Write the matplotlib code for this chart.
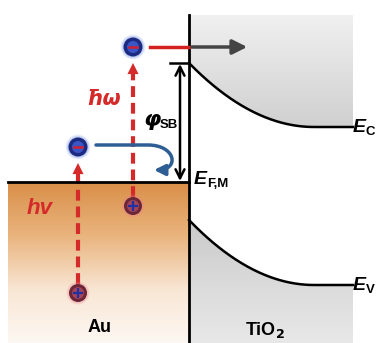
import numpy as np
import matplotlib
matplotlib.use("Agg")
import matplotlib.pyplot as plt
from matplotlib.patches import Circle, Polygon, FancyArrowPatch
from matplotlib.path import Path
from matplotlib.colors import LinearSegmentedColormap

plt.rcParams['font.family'] = ['Liberation Sans', 'DejaVu Sans']

# ---- schematic data (pixel units of the drawing) ----
interface_x = 189
band_end_x = 353
bend_width = 125
ec_levels = [63, 127]      # conduction band edge: at interface, in bulk
ev_levels = [220, 285]     # valence band edge: at interface, in bulk
fermi_level = 182
top_y = 15
hot_electron_level = 47
electrons = [(133, 47), (78, 147)]
holes = [(133, 206), (78, 293)]
band_labels = ["C", "V"]

W, H = 379, 343
fig = plt.figure(figsize=(W / 100, H / 100), dpi=100)
ax = fig.add_axes([0, 0, 1, 1])
ax.set_xlim(0, W)
ax.set_ylim(H, 0)
ax.axis('off')

def band(x, y0, y1):
    t = np.clip((x - interface_x) / bend_width, 0, 1)
    return y1 + (y0 - y1) * (1 - t) ** 2

xs = np.linspace(interface_x, band_end_x, 200)
ec = band(xs, *ec_levels)
ev = band(xs, *ev_levels)

# Au region gradient
au_cmap = LinearSegmentedColormap.from_list('au', ['#d98f48', '#e9b47e', '#f8e6d4', '#fdf8f3'])
grad = np.linspace(0, 1, 256).reshape(-1, 1)
ax.imshow(grad, cmap=au_cmap, extent=[8, interface_x, H, fermi_level], aspect='auto', zorder=0)

# TiO2 conduction region gradient
g_cmap1 = LinearSegmentedColormap.from_list('g1', ['#f0f0f0', '#d0d0d0'])
im1 = ax.imshow(grad, cmap=g_cmap1, extent=[interface_x, band_end_x, ec_levels[1], top_y], aspect='auto', zorder=0)
poly1 = Polygon(np.vstack([[[interface_x, top_y], [band_end_x, top_y]], np.column_stack([xs, ec])[::-1]]),
                closed=True, transform=ax.transData, facecolor='none', edgecolor='none')
ax.add_patch(poly1)
im1.set_clip_path(poly1)

g_cmap2 = LinearSegmentedColormap.from_list('g2', ['#c9c9c9', '#dadada', '#e8e8e8'])
im2 = ax.imshow(grad, cmap=g_cmap2, extent=[interface_x, band_end_x, H, ev_levels[0]], aspect='auto', zorder=0)
poly2 = Polygon(np.vstack([np.column_stack([xs, ev]), [[band_end_x, H], [interface_x, H]]]),
                closed=True, transform=ax.transData, facecolor='none', edgecolor='none')
ax.add_patch(poly2)
im2.set_clip_path(poly2)

# band edges
ax.plot(xs, ec, color='black', lw=1.8, zorder=3)
ax.plot(xs, ev, color='black', lw=1.8, zorder=3)
ax.plot([interface_x, interface_x], [top_y, H], color='black', lw=2, zorder=4)
ax.plot([8, interface_x], [fermi_level, fermi_level], color='black', lw=2, zorder=4)
ax.plot([170, interface_x], [ec_levels[0], ec_levels[0]], color='black', lw=1.8, zorder=4)

# hot electron level and transfer arrow
ax.plot([150, interface_x], [hot_electron_level, hot_electron_level], color='#d42020', lw=2.5, zorder=4)
ax.annotate('', xy=(250, hot_electron_level), xytext=(interface_x, hot_electron_level),
            arrowprops=dict(arrowstyle='-|>', color='#444444', lw=2.5, mutation_scale=22), zorder=5)

# Schottky barrier arrow
ax.annotate('', xy=(180, ec_levels[0] + 1), xytext=(180, fermi_level - 1),
            arrowprops=dict(arrowstyle='<->', color='black', lw=1.8, mutation_scale=16,
                            shrinkA=0, shrinkB=0), zorder=5)

# red dashed excitation arrows
red = '#d42a2a'
exc = [(holes[0], electrons[0]), (holes[1], electrons[1])]
for (hx, hy), (ex, ey) in exc:
    tip = ey + 16
    ax.plot([hx, hx], [hy - 9, tip + 8], color=red, lw=3, ls=(0, (2.6, 1.4)), zorder=3)
    ax.annotate('', xy=(hx, tip), xytext=(hx, tip + 12),
                arrowprops=dict(arrowstyle='-|>', color=red, lw=0, mutation_scale=20,
                                shrinkA=0, shrinkB=0), zorder=3)

# blue curved arrow (relaxation)
blue = '#2f5e95'
verts = [(96, 145), (148, 145), (176, 145), (180, 170), (154, 170)]
codes = [Path.MOVETO, Path.LINETO, Path.CURVE4, Path.CURVE4, Path.CURVE4]
arr = FancyArrowPatch(path=Path(verts, codes), arrowstyle='-|>', color=blue, lw=2.5,
                      mutation_scale=16, shrinkA=0, shrinkB=0, zorder=4)
ax.add_patch(arr)

# electrons
for (x, y) in electrons:
    for r, a in [(12.5, 0.12), (11.5, 0.18), (10.5, 0.25)]:
        ax.add_patch(Circle((x, y), r, color='#6f8fe0', alpha=a, lw=0, zorder=6))
    ax.add_patch(Circle((x, y), 9.5, color='#1d2a82', lw=0, zorder=6))
    ax.add_patch(Circle((x, y), 6, color='#3a55c4', lw=0, zorder=6))
    ax.plot([x - 4, x + 4], [y, y], color='#d02030', lw=1.8, zorder=7)

# holes
for (x, y) in holes:
    for r, a in [(11.5, 0.15), (10.5, 0.25)]:
        ax.add_patch(Circle((x, y), r, color='#f08090', alpha=a, lw=0, zorder=6))
    ax.add_patch(Circle((x, y), 9, color='#6b2638', lw=0, zorder=6))
    ax.add_patch(Circle((x, y), 6, color='#a54457', lw=0, zorder=6))
    ax.plot([x - 4, x + 4], [y, y], color='#2030a0', lw=1.6, zorder=7)
    ax.plot([x, x], [y - 4, y + 4], color='#2030a0', lw=1.6, zorder=7)

# labels
ax.text(104, 99, 'ħω', color=red, fontsize=15, fontweight='bold', style='italic',
        ha='center', va='center', family=['DejaVu Sans'], zorder=8)
ax.text(40, 208, 'hv', color=red, fontsize=16, fontweight='bold', style='italic',
        ha='center', va='center', zorder=8)
ax.text(143, 120, 'φ', color='black', fontsize=16, fontweight='bold', style='italic',
        ha='left', va='center', family=['DejaVu Sans'], zorder=8)
ax.text(160, 125, 'SB', color='black', fontsize=9.5, fontweight='bold',
        ha='left', va='center', zorder=8)

def elabel(x, y, sub):
    ax.text(x, y, 'E', color='black', fontsize=14, style='italic', fontweight='bold',
            ha='left', va='center', zorder=8)
    ax.text(x + 13, y + 4, sub, color='black', fontsize=9.5, fontweight='bold',
            ha='left', va='center', zorder=8)

elabel(353, ec_levels[1] + 1, band_labels[0])
elabel(353, ev_levels[1] + 1, band_labels[1])
elabel(194, 180, 'F,M')

ax.text(100, 328, 'Au', fontsize=13, fontweight='bold', ha='center', va='center', zorder=8)
ax.text(265, 330, 'TiO$_\\mathbf{2}$', fontsize=13, fontweight='bold', ha='center', va='center', zorder=8)

fig.savefig('out.png', dpi=100)
